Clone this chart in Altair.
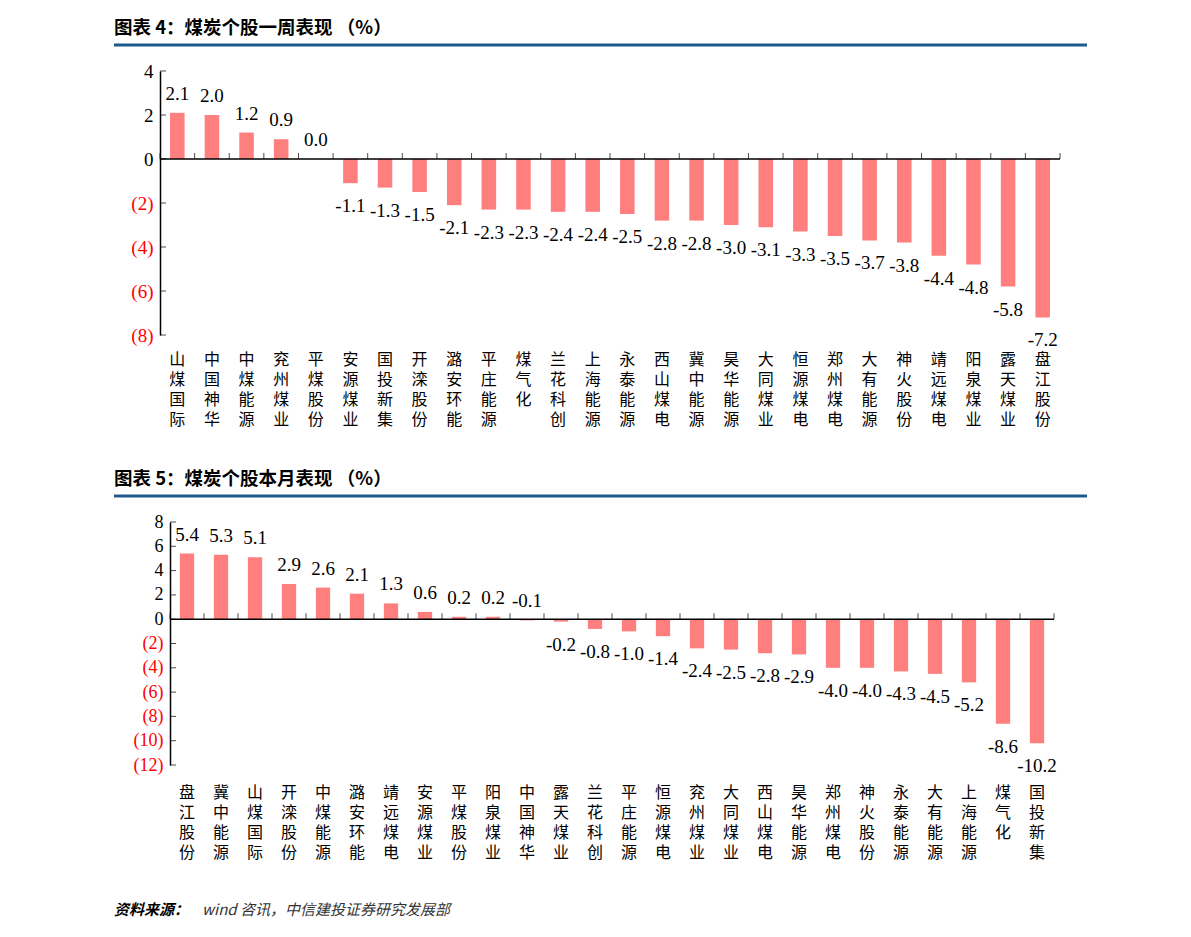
import altair as alt
import pandas as pd

# ---------------- data ----------------
week_names = ["山煤国际", "中国神华", "中煤能源", "兖州煤业", "平煤股份", "安源煤业", "国投新集",
              "开滦股份", "潞安环能", "平庄能源", "煤气化", "兰花科创", "上海能源", "永泰能源",
              "西山煤电", "冀中能源", "昊华能源", "大同煤业", "恒源煤电", "郑州煤电", "大有能源",
              "神火股份", "靖远煤电", "阳泉煤业", "露天煤业", "盘江股份"]
week_vals = [2.1, 2.0, 1.2, 0.9, 0.0, -1.1, -1.3, -1.5, -2.1, -2.3, -2.3, -2.4, -2.4, -2.5,
             -2.8, -2.8, -3.0, -3.1, -3.3, -3.5, -3.7, -3.8, -4.4, -4.8, -5.8, -7.2]

month_names = ["盘江股份", "冀中能源", "山煤国际", "开滦股份", "中煤能源", "潞安环能", "靖远煤电",
               "安源煤业", "平煤股份", "阳泉煤业", "中国神华", "露天煤业", "兰花科创", "平庄能源",
               "恒源煤电", "兖州煤业", "大同煤业", "西山煤电", "昊华能源", "郑州煤电", "神火股份",
               "永泰能源", "大有能源", "上海能源", "煤气化", "国投新集"]
month_vals = [5.4, 5.3, 5.1, 2.9, 2.6, 2.1, 1.3, 0.6, 0.2, 0.2, -0.1, -0.2, -0.8, -1.0, -1.4,
              -2.4, -2.5, -2.8, -2.9, -4.0, -4.0, -4.3, -4.5, -5.2, -8.6, -10.2]

week_ticks = [4, 2, 0, -2, -4, -6, -8]
month_ticks = [8, 6, 4, 2, 0, -2, -4, -6, -8, -10, -12]

title1 = "图表 4：煤炭个股一周表现 （%）"
title2 = "图表 5：煤炭个股本月表现 （%）"
source_head = "资料来源："
source_body = "wind 咨讯，中信建投证券研究发展部"

# ---------------- style ----------------
BAR = "#FF7F7F"
BLUE = "#1F5A8C"
SERIF = "Liberation Serif"
CJK = "Noto Sans CJK SC"


def panel(names, vals, ticks, W, H, title, lab_pad, dx, yfs, footer=False):
    df = pd.DataFrame({"name": names, "v": vals})
    one = alt.Data(values=[{}])
    base = alt.Chart(df)
    left = -46

    x_axis = alt.Axis(title=None, orient="bottom", domain=False, ticks=False, labelAngle=0,
                      labelExpr="split(datum.label, '')", labelFont=CJK, labelFontSize=16,
                      labelLineHeight=20, labelPadding=lab_pad, labelBaseline="top",
                      labelColor="black", labelOverlap=False)
    y_axis = alt.Axis(title=None, values=ticks, tickCount=len(ticks) + 2, grid=False, ticks=False,
                      domainColor="black", domainWidth=1.5, labelFont=SERIF, labelFontSize=yfs,
                      labelPadding=7, labelOverlap=False, offset=-dx,
                      labelExpr="datum.value < 0 ? '(' + abs(datum.value) + ')' : datum.value",
                      labelColor={"condition": {"test": "datum.value < 0", "value": "#FF0000"},
                                  "value": "black"})
    xs = alt.Scale(paddingInner=0, paddingOuter=0, range=[dx, W])
    ys = alt.Scale(domain=[ticks[-1], ticks[0]], nice=False, zero=False)

    bars = base.mark_bar(color=BAR, width=alt.RelativeBandSize(0.42)).encode(
        x=alt.X("name:N", sort=names, scale=xs, axis=x_axis),
        y=alt.Y("v:Q", scale=ys, axis=y_axis),
        y2=alt.datum(0),
    )

    lab = base.transform_calculate(
        lab="(datum.v < 0 ? '-' : '') + format(abs(datum.v), '.1f')")
    up = lab.transform_filter("datum.v > -0.15").mark_text(
        baseline="bottom", dy=-9, font=SERIF, fontSize=19, color="black").encode(
        x=alt.X("name:N", sort=names, axis=x_axis), y=alt.Y("v:Q", axis=y_axis), text="lab:N")
    down = lab.transform_filter("datum.v <= -0.15").mark_text(
        baseline="top", dy=14, font=SERIF, fontSize=19, color="black").encode(
        x=alt.X("name:N", sort=names, axis=x_axis), y=alt.Y("v:Q", axis=y_axis), text="lab:N")

    zero = alt.Chart(one).mark_rule(color="black", strokeWidth=1.5).encode(
        x=alt.value(dx), x2=alt.value(W), y=alt.datum(0))
    xt = base.mark_tick(orient="vertical", size=6, thickness=1, color="black", yOffset=-3).encode(
        x=alt.X("name:N", sort=names, bandPosition=0, axis=x_axis), y=alt.datum(0))
    xt_end = alt.Chart(one).mark_tick(orient="vertical", size=6, thickness=1, color="black",
                                      yOffset=-3).encode(x=alt.value(W), y=alt.datum(0))
    yt = alt.Chart(pd.DataFrame({"t": ticks})).mark_tick(
        orient="horizontal", size=6, thickness=1, color="black", xOffset=3).encode(
        y=alt.Y("t:Q", axis=y_axis), x=alt.value(dx))

    head = alt.Chart(one).mark_text(align="left", baseline="middle", font=CJK, fontSize=18.5,
                                    fontWeight="bold", color="black").encode(
        x=alt.value(left), y=alt.value(-43), text=alt.value(title))
    line = alt.Chart(one).mark_rule(color=BLUE, strokeWidth=3).encode(
        x=alt.value(left), x2=alt.value(left + 973), y=alt.value(-26))

    layers = [bars, zero, xt, xt_end, yt, up, down, head, line]
    if footer:
        f1 = alt.Chart(one).mark_text(align="left", baseline="middle", font=CJK, fontSize=15,
                                      fontWeight="bold", fontStyle="italic", color="black").encode(
            x=alt.value(left), y=alt.value(388), text=alt.value(source_head))
        f2 = alt.Chart(one).mark_text(align="left", baseline="middle", font=CJK, fontSize=15,
                                      fontStyle="italic", color="#333333").encode(
            x=alt.value(left + 88), y=alt.value(388), text=alt.value(source_body))
        layers += [f1, f2]
    return alt.layer(*layers).properties(width=W, height=H)


c1 = panel(week_names, week_vals, week_ticks, 900, 264, title1, 16, 0, 19)
c2 = panel(month_names, month_vals, month_ticks, 894, 243, title2, 19, 10, 18, footer=True)

chart = alt.vconcat(c1, c2, spacing=43).properties(
    padding={"left": 112, "top": 19, "right": 5, "bottom": 5},
    background="white",
).configure_view(stroke=None)

chart.save("out.html", embed_options={"renderer": "svg", "actions": False})
